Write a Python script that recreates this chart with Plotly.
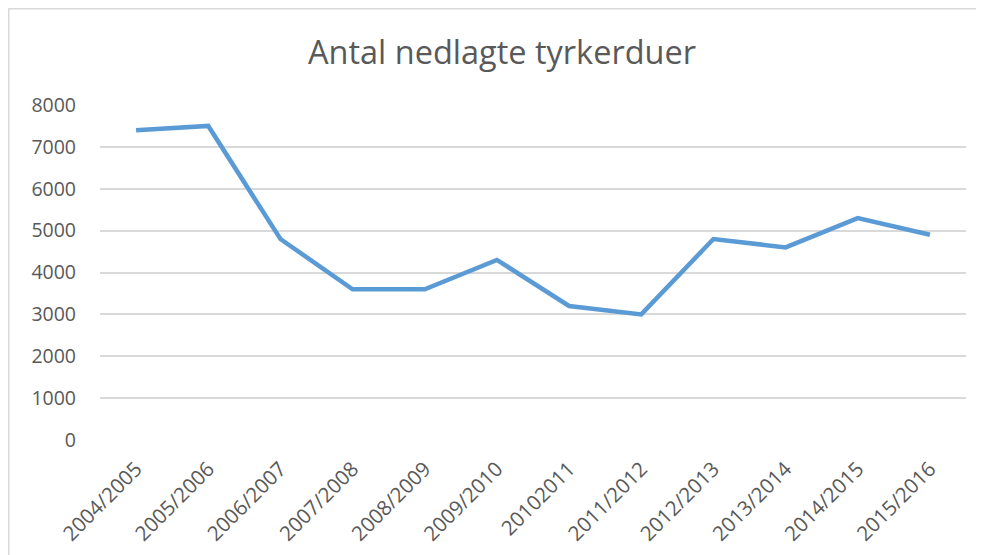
import plotly.graph_objects as go

seasons = ["2004/2005", "2005/2006", "2006/2007", "2007/2008", "2008/2009", "2009/2010",
           "20102011", "2011/2012", "2012/2013", "2013/2014", "2014/2015", "2015/2016"]
nedlagte = [7400, 7500, 4800, 3600, 3600, 4300, 3200, 3000, 4800, 4600, 5300, 4900]
y_ticks = [0, 1000, 2000, 3000, 4000, 5000, 6000, 7000, 8000]

# page body has an 8px margin; work in figure coordinates (= reference - 8)
W, H = 976, 547
L, R, T, B = 92, 18, 97, 115
pw, ph = W - L - R, H - T - B

def px(x):
    return (x - L) / pw

def py(y):
    return (H - B - y) / ph

fig = go.Figure()
fig.add_trace(go.Scatter(
    x=seasons, y=nedlagte, mode="lines",
    line=dict(color="#5B9BD5", width=4.5),
    hoverinfo="x+y", showlegend=False,
))

border = "#d9d9d9"
fig.add_shape(type="line", xref="paper", yref="paper",
              x0=px(0.75), x1=px(0.75), y0=py(0.5), y1=py(600),
              line=dict(color=border, width=1.5))
fig.add_shape(type="line", xref="paper", yref="paper",
              x0=px(0), x1=px(1000), y0=py(0.75), y1=py(0.75),
              line=dict(color=border, width=1.5))

font_family = "'Open Sans', sans-serif"
txt = "#595959"
fig.update_layout(
    width=W, height=H,
    margin=dict(l=L, r=R, t=T, b=B),
    paper_bgcolor="white", plot_bgcolor="white",
    title=dict(text="Antal nedlagte tyrkerduer", x=494 / W, xanchor="center",
               y=(H - 45) / H, yanchor="middle",
               font=dict(family=font_family, size=32.5, color=txt)),
    font=dict(family=font_family, color=txt, size=19.5),
    xaxis=dict(
        type="category", tickangle=-45, showgrid=False, zeroline=False,
        showline=False, ticks="", tickfont=dict(size=20.5, color=txt),
        range=[-0.5, len(seasons) - 0.5],
        ticklabelstandoff=12, automargin=False,
    ),
    yaxis=dict(
        range=[0, 8000], tickvals=y_ticks, ticktext=[str(v) for v in y_ticks],
        showgrid=True, gridcolor="#d9d9d9", gridwidth=1.5,
        zeroline=False, showline=False, ticks="",
        tickfont=dict(size=19.5, color=txt),
        ticklabelstandoff=23, automargin=False,
    ),
)

fig.write_html("out.html")
